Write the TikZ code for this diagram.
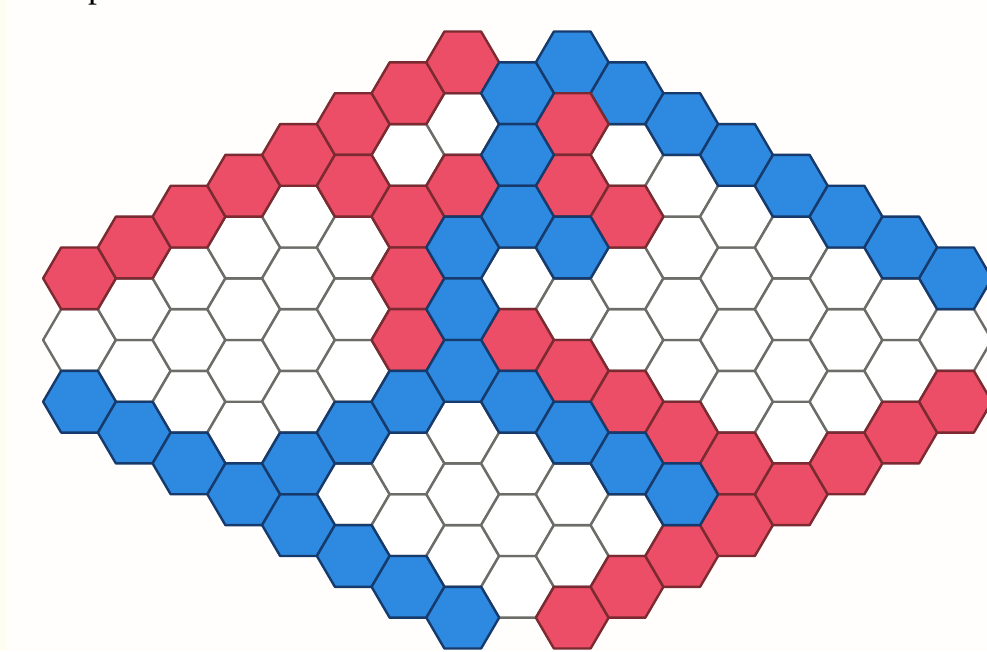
\documentclass[tikz,border=0pt]{standalone}
\usepackage{fontspec}
\setmainfont{Liberation Serif}
\definecolor{hexred}{HTML}{EB4E66}
\definecolor{hexblue}{HTML}{2E8AE0}
\definecolor{redline}{HTML}{7A2A30}
\definecolor{blueline}{HTML}{163A6C}
\definecolor{grayline}{HTML}{6C6C68}
\definecolor{paper}{HTML}{FFFEFC}
\definecolor{cream}{HTML}{FEFDF2}
\tikzset{
  cellbase/.style={line width=2.4pt, line join=round},
  emptycell/.style={cellbase, fill=white, draw=grayline},
  redcell/.style={cellbase, fill=hexred, draw=redline},
  bluecell/.style={cellbase, fill=hexblue, draw=blueline},
}
% cell at column c (#1) and half-row k (#2)
\newcommand\hexck[3]{%
  \path[#3] ({79.5+54.75*(#1)+36.4},{340+30.85*(#2)})
    -- ++(-18.05,30.85) -- ++(-36.7,0) -- ++(-18.05,-30.85)
    -- ++(18.05,-30.85) -- ++(36.7,0) -- cycle;%
}
% cell in board coordinates (i,j)
\newcommand\hexij[3]{\hexck{(#1)+(#2)}{(#2)-(#1)}{#3}}
\begin{document}
\begin{tikzpicture}[x=1pt,y=-1pt]
  \useasboundingbox (0,0) rectangle (987,651);
  \fill[paper] (0,0) rectangle (987,651);
  \fill[cream] (0,0) rectangle (7,651);
  \clip (0,0) rectangle (987,651);
  % cropped caption letter at the top
  \node[anchor=base west, inner sep=0pt, font=\fontsize{36}{36}\selectfont] (ptext) at (88,-2.5) {p};
  % interior 9x9 board
  \foreach \i in {0,...,8} {
    \foreach \j in {0,...,8} {
      \hexij{\i}{\j}{emptycell}
    }
  }
  % border rows
  \foreach \i in {1,...,8} {\hexij{\i}{-1}{redcell}}
  \foreach \i in {0,...,7} {\hexij{\i}{9}{redcell}}
  \foreach \j in {0,...,7} {\hexij{9}{\j}{bluecell}}
  \foreach \j in {1,...,8} {\hexij{-1}{\j}{bluecell}}
  % red stones (column, half-row)
  \foreach \c/\k in {5/-5, 6/-4, 6/-2, 6/0, 7/-5, 8/0, 9/-7, 9/-5, 9/1, 10/-4, 10/2, 11/3, 12/4} {
    \hexck{\c}{\k}{redcell}
  }
  % blue stones (column, half-row)
  \foreach \c/\k in {4/4, 5/3, 6/2, 7/-3, 7/-1, 7/1, 8/-8, 8/-6, 8/-4, 8/2, 9/-3, 9/3, 10/4, 11/5} {
    \hexck{\c}{\k}{bluecell}
  }
\end{tikzpicture}
\end{document}
